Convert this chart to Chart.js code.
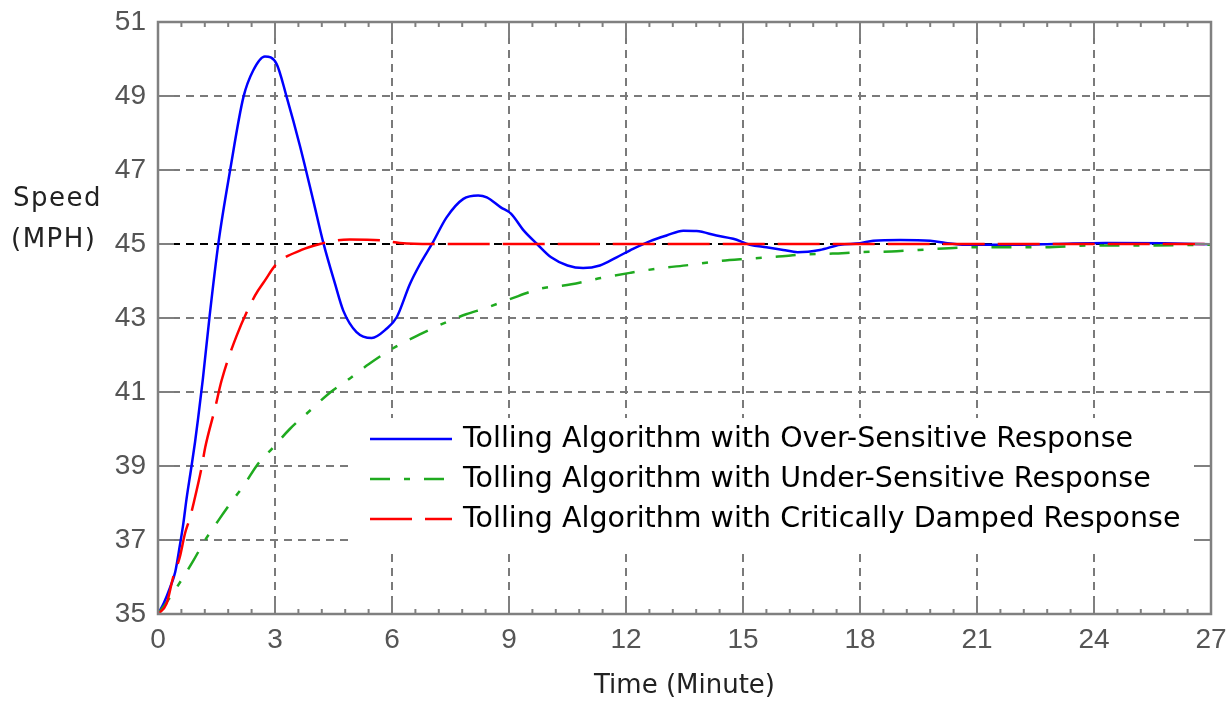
<!DOCTYPE html>
<html>
<head>
<meta charset="utf-8">
<script src="https://cdn.jsdelivr.net/npm/chart.js@4.4.1/dist/chart.umd.min.js"></script>
<style>
  body { margin: 0; background: #fff; }
</style>
</head>
<body>
<canvas id="speed-chart" width="1230" height="702"></canvas>
<script>
// readings taken off the plot (minutes, mph)
var overTime  = [0, 0.15, 0.31, 0.44, 0.56, 0.65, 0.73, 0.86, 0.95, 1.03, 1.15, 1.32, 1.55, 1.85, 2.19, 2.44, 2.74, 3.04, 3.3, 3.64, 3.98, 4.24, 4.54, 4.75, 5.09, 5.48, 5.86, 6.12, 6.46, 6.72, 7.04, 7.4, 7.83, 8.21, 8.43, 8.79, 9.05, 9.38, 9.72, 10.08, 10.5, 10.9, 11.33, 11.76, 12.18, 12.62, 13.04, 13.47, 13.81, 14.32, 14.75, 15.18, 15.6, 16.03, 16.4, 16.97, 17.49, 18.0, 18.34, 19.03, 19.8, 20.2, 20.7, 22.0, 23.0, 24.3, 25.8, 27];
var overSpeed = [35, 35.3, 35.72, 36.13, 36.85, 37.45, 38.1, 39.0, 39.65, 40.3, 41.35, 43.02, 45.03, 47.0, 48.97, 49.69, 50.07, 49.87, 48.97, 47.65, 46.18, 45.03, 43.92, 43.2, 42.62, 42.46, 42.71, 43.02, 43.92, 44.46, 45.03, 45.72, 46.22, 46.31, 46.26, 45.99, 45.82, 45.36, 45.0, 44.64, 44.42, 44.35, 44.42, 44.64, 44.87, 45.08, 45.23, 45.36, 45.35, 45.23, 45.14, 44.98, 44.91, 44.84, 44.78, 44.84, 44.98, 45.02, 45.09, 45.11, 45.09, 45.03, 44.98, 44.98, 45.0, 45.03, 45.02, 44.99];

var underTime  = [0, 0.31, 0.65, 0.91, 1.21, 1.55, 1.85, 2.23, 2.53, 2.96, 3.38, 3.9, 4.43, 4.86, 5.4, 6.04, 6.7, 7.42, 7.9, 8.4, 9.0, 9.8, 10.6, 11.35, 12.1, 12.9, 13.6, 14.4, 15.1, 15.9, 16.6, 17.3, 18.0, 18.8, 19.5, 21.0, 22.6, 24.0, 25.5, 27];
var underSpeed = [35, 35.45, 36.0, 36.45, 37.0, 37.53, 37.98, 38.52, 39.01, 39.51, 40.0, 40.5, 41.0, 41.32, 41.75, 42.19, 42.55, 42.9, 43.1, 43.27, 43.5, 43.79, 43.91, 44.08, 44.22, 44.35, 44.43, 44.54, 44.6, 44.66, 44.72, 44.74, 44.78, 44.8, 44.84, 44.91, 44.91, 44.96, 44.96, 44.98];

var dampTime  = [0, 0.22, 0.39, 0.56, 0.69, 0.82, 0.91, 1.12, 1.21, 1.46, 1.63, 2.02, 2.49, 2.74, 3.04, 3.68, 4.15, 4.6, 4.92, 5.69, 6.2, 7, 12, 18, 27];
var dampSpeed = [35, 35.28, 36.0, 36.54, 37.17, 37.6, 37.98, 38.97, 39.5, 40.55, 41.31, 42.53, 43.61, 44.01, 44.46, 44.84, 45.0, 45.1, 45.12, 45.1, 45.03, 45.0, 45.0, 45.0, 45.0];

var seriesNames = [
  'Tolling Algorithm with Over-Sensitive Response',
  'Tolling Algorithm with Under-Sensitive Response',
  'Tolling Algorithm with Critically Damped Response'
];

var xTicks = [0, 3, 6, 9, 12, 15, 18, 21, 24, 27];
var yTicks = [35, 37, 39, 41, 43, 45, 47, 49, 51];
var targetSpeed = 45;

function toPoints(xs, ys) {
  var pts = [];
  for (var i = 0; i < xs.length; i++) pts.push({x: xs[i], y: ys[i]});
  return pts;
}

function line(ctx, x1, y1, x2, y2) {
  ctx.beginPath();
  ctx.moveTo(x1, y1);
  ctx.lineTo(x2, y2);
  ctx.stroke();
}

// axis frame with inward ticks, like the original plot
var frameTicks = {
  id: 'frameTicks',
  afterDraw: function(chart) {
    var ctx = chart.ctx, a = chart.chartArea;
    var xs = chart.scales.x, ys = chart.scales.y;
    ctx.save();
    ctx.strokeStyle = '#808080';
    ctx.lineWidth = 2;
    ctx.setLineDash([]);
    for (var i = 0; i <= 45; i++) {
      var px = xs.getPixelForValue(i * 0.6);
      var len = (i % 5 == 0) ? 16 : 5;
      line(ctx, px, a.bottom, px, a.bottom - len);
      line(ctx, px, a.top, px, a.top + len);
    }
    yTicks.forEach(function(v) {
      var py = ys.getPixelForValue(v);
      line(ctx, a.left, py, a.left + 16, py);
      line(ctx, a.right, py, a.right - 16, py);
    });
    ctx.lineWidth = 2.5;
    ctx.strokeRect(a.left, a.top, a.right - a.left, a.bottom - a.top);

    // y axis title, written flat on the left
    ctx.fillStyle = '#222';
    ctx.font = '26px "DejaVu Sans"';
    ctx.letterSpacing = '1.5px';
    ctx.textAlign = 'left';
    ctx.textBaseline = 'alphabetic';
    ctx.fillText('Speed', 13, 206);
    ctx.fillText('(MPH)', 11, 247);
    ctx.restore();
  }
};

// white legend box inside the plot area
var boxLegend = {
  id: 'boxLegend',
  afterDatasetsDraw: function(chart) {
    var ctx = chart.ctx, a = chart.chartArea;
    var left = a.left + 194, top = a.top + 396;
    var right = a.right - 18, bottom = a.bottom - 62;
    ctx.save();
    ctx.fillStyle = '#fff';
    ctx.fillRect(left, top, right - left, bottom - top);
    ctx.font = '28.5px "DejaVu Sans"';
    ctx.textAlign = 'left';
    ctx.textBaseline = 'middle';
    [0, 1, 2].forEach(function(i, row) {
      var ds = chart.data.datasets[i];
      var y = top + 21 + row * 40;
      ctx.strokeStyle = ds.borderColor;
      ctx.lineWidth = ds.borderWidth;
      ctx.setLineDash(ds.borderDash || []);
      line(ctx, left + 18, y, left + 100, y);
      ctx.setLineDash([]);
      ctx.fillStyle = '#000';
      ctx.fillText(seriesNames[i], left + 111, y + 1);
    });
    ctx.restore();
  }
};

var dataPlot = new Chart(document.getElementById('speed-chart'), {
  type: 'line',
  data: {
    datasets: [{
      label: seriesNames[0],
      data: toPoints(overTime, overSpeed),
      borderColor: '#0000ff',
      borderWidth: 2.5,
      pointRadius: 0,
      cubicInterpolationMode: 'monotone',
      order: 3
    }, {
      label: seriesNames[1],
      data: toPoints(underTime, underSpeed),
      borderColor: '#1faa1f',
      borderWidth: 2.5,
      borderDash: [20, 14, 6, 14],
      pointRadius: 0,
      cubicInterpolationMode: 'monotone',
      order: 2
    }, {
      label: seriesNames[2],
      data: toPoints(dampTime, dampSpeed),
      borderColor: '#ff0000',
      borderWidth: 2.5,
      borderDash: [42, 13],
      pointRadius: 0,
      cubicInterpolationMode: 'monotone',
      order: 1
    }]
  },
  options: {
    responsive: false,
    animation: false,
    layout: { padding: { top: 22, right: 19, left: 0, bottom: 0 } },
    plugins: {
      legend: { display: false },
      tooltip: { enabled: false }
    },
    scales: {
      x: {
        type: 'linear',
        min: 0,
        max: 27,
        afterBuildTicks: function(scale) {
          scale.ticks = xTicks.map(function(v) { return {value: v}; });
        },
        afterFit: function(scale) {
          scale.height = 88;
          scale.paddingLeft = 0;
          scale.paddingRight = 0;
        },
        grid: {
          drawTicks: false,
          color: '#7a7a7a',
          lineWidth: 2
        },
        border: { display: false, dash: [8, 6] },
        ticks: {
          padding: 9,
          color: '#555',
          font: { family: '"Liberation Sans", Arial', size: 28 }
        },
        title: {
          display: true,
          text: 'Time (Minute)',
          color: '#222',
          padding: { top: 0, bottom: 0 },
          font: { family: '"DejaVu Sans"', size: 26 }
        }
      },
      y: {
        min: 35,
        max: 51,
        afterBuildTicks: function(scale) {
          scale.ticks = yTicks.map(function(v) { return {value: v}; });
        },
        afterFit: function(scale) {
          scale.width = 158;
          scale.paddingTop = 0;
          scale.paddingBottom = 0;
        },
        grid: {
          drawTicks: false,
          color: function(c) { return c.tick && c.tick.value == targetSpeed ? '#000' : '#7a7a7a'; },
          lineWidth: 2
        },
        border: { display: false, dash: [8, 6] },
        ticks: {
          padding: 12,
          color: '#555',
          font: { family: '"Liberation Sans", Arial', size: 28 }
        }
      }
    }
  },
  plugins: [boxLegend, frameTicks]
});
</script>
</body>
</html>
